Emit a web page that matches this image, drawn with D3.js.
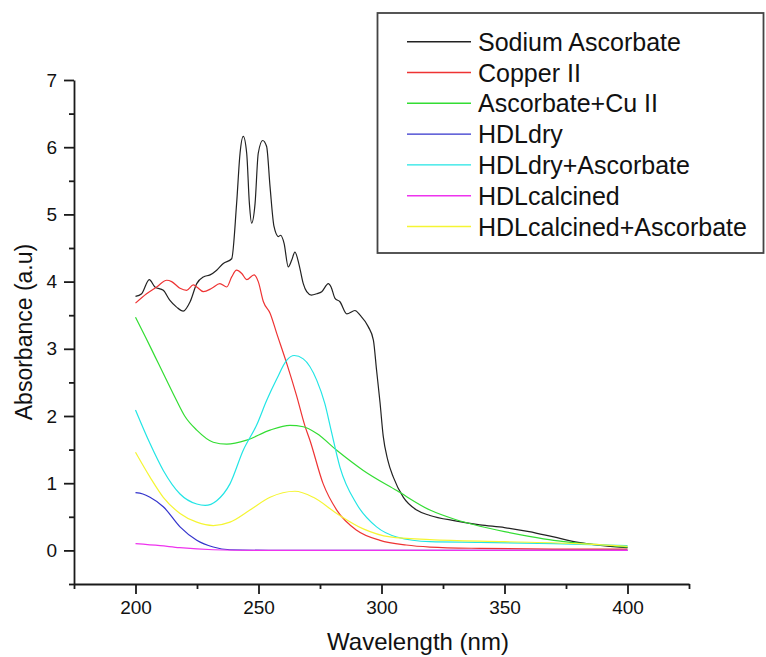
<!DOCTYPE html>
<html>
<head>
<meta charset="utf-8">
<script src="https://cdn.jsdelivr.net/npm/d3@7"></script>
<style>
  html, body { margin: 0; padding: 0; background: #fff; }
  svg { display: block; font-family: "Liberation Sans", Arial, sans-serif; }
</style>
</head>
<body>
<svg id="chart" width="766" height="657"></svg>
<script>
// Series data: [wavelength (nm), absorbance]
const sodiumAscorbate = [
  [200, 3.78], [202.5, 3.82], [205.6, 4.03], [207.9, 3.92], [211.3, 3.87], [214, 3.72],
  [216.7, 3.62], [219.4, 3.56], [222.2, 3.70], [224.9, 3.97], [227.6, 4.07], [230.3, 4.10],
  [233, 4.17], [235.7, 4.27], [239.1, 4.34], [241.1, 5.16], [242.5, 5.91], [243.8, 6.16],
  [245.2, 5.91], [246.3, 5.16], [247.2, 4.87], [248.6, 5.16], [249.9, 5.91], [251.7, 6.10],
  [253.3, 6.01], [254.7, 5.41], [256.3, 4.82], [258.1, 4.67], [259, 4.69], [260.4, 4.57],
  [262.1, 4.22], [263.5, 4.32], [264.8, 4.44], [266.5, 4.25], [268.2, 3.97], [269.6, 3.85],
  [271.5, 3.80], [273.7, 3.82], [275.7, 3.85], [278.4, 3.97], [279.5, 3.92], [281.1, 3.75],
  [283.1, 3.70], [285.9, 3.52], [289.2, 3.57], [291.3, 3.50], [294.6, 3.33], [296.7, 3.13],
  [298, 2.68], [299.4, 2.20], [300.7, 1.70], [302.5, 1.35], [304.8, 1.09], [308.9, 0.79],
  [314.3, 0.60], [319.7, 0.52], [330, 0.44], [340, 0.38], [350, 0.34], [360, 0.28],
  [370, 0.20], [380, 0.12], [390, 0.07], [400, 0.04]
];
const copperII = [
  [200, 3.68], [204.5, 3.82], [208.6, 3.92], [212.7, 4.02], [214.7, 4.00], [218.1, 3.90],
  [220.8, 3.87], [223.5, 3.95], [224.9, 3.92], [227.6, 3.85], [231, 3.90], [234.3, 3.97],
  [237.1, 3.92], [239.1, 4.07], [241.1, 4.17], [243.2, 4.12], [245.2, 4.03], [248.2, 4.10],
  [249.9, 4.00], [252, 3.70], [254.7, 3.53], [257.4, 3.23], [261.5, 2.78], [265.5, 2.30],
  [268.9, 1.85], [270.9, 1.64], [276.3, 0.99], [281.8, 0.60], [289.9, 0.30], [299.4, 0.15],
  [310, 0.08], [319.7, 0.05], [340, 0.03], [370, 0.02], [400, 0.02]
];
const ascorbateCu = [
  [200, 3.47], [204, 3.18], [208, 2.88], [212, 2.58], [216.7, 2.23], [220, 2.00],
  [224.9, 1.79], [231.6, 1.61], [237.1, 1.58], [245.2, 1.64], [254.7, 1.79], [262.8, 1.86],
  [268.2, 1.84], [273.7, 1.74], [281.8, 1.49], [292.6, 1.19], [306.2, 0.89], [319.7, 0.60],
  [330, 0.46], [340, 0.36], [350, 0.28], [360, 0.21], [370, 0.15], [380, 0.11],
  [390, 0.08], [400, 0.05]
];
const hdlDry = [
  [200, 0.86], [203, 0.84], [205.9, 0.79], [211.3, 0.65], [218.1, 0.35], [224.9, 0.15],
  [231.6, 0.05], [238.4, 0.01], [260, 0.0], [300, 0.0], [350, 0.0], [400, 0.0]
];
const hdlDryAscorbate = [
  [200, 2.09], [205.9, 1.59], [211.3, 1.19], [218.1, 0.84], [224.9, 0.69], [228.3, 0.67],
  [233, 0.74], [238.4, 0.99], [243.8, 1.49], [249.3, 1.87], [253.3, 2.23], [257.4, 2.55],
  [261.5, 2.83], [264.5, 2.90], [268.2, 2.85], [273.7, 2.53], [277, 2.18], [279.5, 1.79],
  [283.1, 1.24], [289.9, 0.69], [298, 0.35], [306.2, 0.20], [319.7, 0.13], [340, 0.12],
  [370, 0.10], [400, 0.07]
];
const hdlCalcined = [
  [200, 0.10], [210, 0.07], [218, 0.04], [231.6, 0.01], [250, 0.0], [300, 0.0], [400, 0.0]
];
const hdlCalcinedAscorbate = [
  [200, 1.46], [205.9, 1.09], [211.3, 0.79], [218.1, 0.55], [224.9, 0.42], [231.6, 0.37],
  [238.4, 0.42], [246.5, 0.60], [254.7, 0.79], [264.8, 0.88], [272.3, 0.79], [281.8, 0.55],
  [292.6, 0.32], [303.5, 0.20], [319.7, 0.16], [350, 0.13], [380, 0.10], [400, 0.06]
];

const seriesNames = ["Sodium Ascorbate", "Copper II", "Ascorbate+Cu II", "HDLdry",
  "HDLdry+Ascorbate", "HDLcalcined", "HDLcalcined+Ascorbate"];
const seriesValues = [sodiumAscorbate, copperII, ascorbateCu, hdlDry,
  hdlDryAscorbate, hdlCalcined, hdlCalcinedAscorbate];
const seriesColors = ["#222222", "#ee3333", "#33dd33", "#3333cc", "#22e5e5", "#ee33ee", "#f5f533"];

const xMajorTicks = [200, 250, 300, 350, 400];
const xMinorTicks = [175, 225, 275, 325, 375, 425];
const yMajorTicks = [0, 1, 2, 3, 4, 5, 6, 7];
const yMinorTicks = [-0.5, 0.5, 1.5, 2.5, 3.5, 4.5, 5.5, 6.5];

// plot area
const plotLeft = 74, plotRight = 689, plotTop = 80, plotBottom = 584;

const svg = d3.select("#chart");

const x = d3.scaleLinear().domain([175, 425]).range([plotLeft, plotRight]);
const y = d3.scaleLinear().domain([-0.5, 7]).range([plotBottom, plotTop]);

// curves first, axes drawn on top
const line = d3.line()
  .x((d) => x(d[0]))
  .y((d) => y(d[1]))
  .curve(d3.curveMonotoneX);

svg.append("g")
  .selectAll("path")
  .data(seriesValues)
  .join("path")
  .attr("d", line)
  .attr("fill", "none")
  .attr("stroke", (d, i) => seriesColors[i])
  .attr("stroke-width", 1.2)
  .attr("stroke-linejoin", "round");

// X axis
svg.append("g")
  .attr("transform", `translate(0,${plotBottom})`)
  .call(d3.axisBottom(x).tickValues(xMajorTicks).tickSize(10).tickSizeOuter(0).tickPadding(7));
svg.append("g")
  .attr("transform", `translate(0,${plotBottom})`)
  .call(d3.axisBottom(x).tickValues(xMinorTicks).tickSize(5).tickFormat(""))
  .call((g) => g.select(".domain").remove());

// Y axis
svg.append("g")
  .attr("transform", `translate(${plotLeft},0)`)
  .call(d3.axisLeft(y).tickValues(yMajorTicks).tickSize(10).tickSizeOuter(0).tickPadding(7));
svg.append("g")
  .attr("transform", `translate(${plotLeft},0)`)
  .call(d3.axisLeft(y).tickValues(yMinorTicks).tickSize(5).tickFormat(""))
  .call((g) => g.select(".domain").remove());

svg.selectAll(".domain, .tick line")
  .attr("stroke", "#1a1a1a")
  .attr("stroke-width", 1.8);
svg.selectAll(".tick text")
  .attr("fill", "#111")
  .style("font-size", "19px");

// axis titles
svg.append("text")
  .attr("x", 418)
  .attr("y", 650)
  .attr("text-anchor", "middle")
  .style("font-size", "24px")
  .attr("fill", "#111")
  .text("Wavelength (nm)");

svg.append("text")
  .attr("transform", `translate(32,${(plotTop + plotBottom) / 2}) rotate(-90)`)
  .attr("text-anchor", "middle")
  .style("font-size", "23px")
  .attr("fill", "#111")
  .text("Absorbance (a.u)");

// Legend
const legend = svg.append("g");
legend.append("rect")
  .attr("x", 377.5)
  .attr("y", 13)
  .attr("width", 386)
  .attr("height", 240)
  .attr("fill", "#fff")
  .attr("stroke", "#444")
  .attr("stroke-width", 1.8);

const entry = legend.selectAll("g.entry")
  .data(seriesNames)
  .join("g")
  .attr("class", "entry")
  .attr("transform", (d, i) => `translate(0,${41.7 + i * 30.8})`);

entry.append("line")
  .attr("x1", 407)
  .attr("x2", 471)
  .attr("stroke", (d, i) => seriesColors[i])
  .attr("stroke-width", 1.4);

entry.append("text")
  .attr("x", 478)
  .attr("dy", "0.36em")
  .style("font-size", "25px")
  .attr("fill", "#111")
  .text((d) => d);
</script>
</body>
</html>
